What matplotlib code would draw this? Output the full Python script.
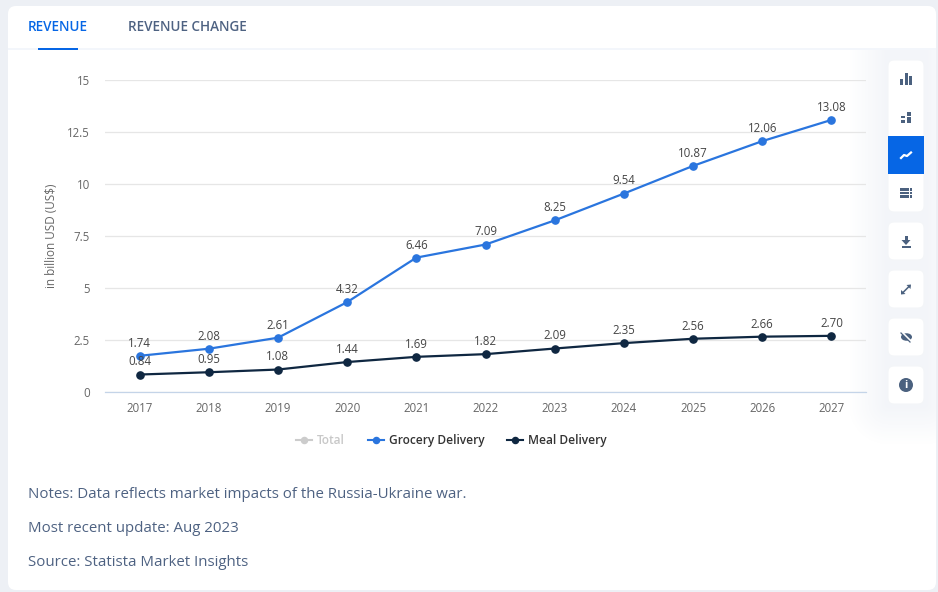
import matplotlib
matplotlib.use("Agg")
import matplotlib.pyplot as plt
import numpy as np
from matplotlib.lines import Line2D
from matplotlib.patches import Circle, Ellipse, FancyBboxPatch, Polygon, Rectangle

W, H = 938, 592

years = ["2017", "2018", "2019", "2020", "2021", "2022", "2023", "2024", "2025", "2026", "2027"]
grocery = [1.74, 2.08, 2.61, 4.32, 6.46, 7.09, 8.25, 9.54, 10.87, 12.06, 13.08]
meal = [0.84, 0.95, 1.08, 1.44, 1.69, 1.82, 2.09, 2.35, 2.56, 2.66, 2.70]
y_ticks = [0, 2.5, 5, 7.5, 10, 12.5, 15]
y_tick_labels = ["0", "2.5", "5", "7.5", "10", "12.5", "15"]
notes = [
    "Notes: Data reflects market impacts of the Russia-Ukraine war.",
    "Most recent update: Aug 2023",
    "Source: Statista Market Insights",
]

BLUE = "#2a75de"
NAVY = "#0f2741"
ACCENT = "#0666e5"
SLATE = "#4e6282"
ICON = "#4b617f"
GREY = "#666666"

plt.rcParams["font.family"] = ["Open Sans", "DejaVu Sans"]

fig = plt.figure(figsize=(W / 100, H / 100), dpi=100, facecolor="#edf0f5")

# page furniture drawn in pixel coordinates
bg = fig.add_axes([0, 0, 1, 1], zorder=0)
bg.axis("off")


def card(x, y, w, h, color="white", radius=6, z=1, edge="none"):
    bg.add_patch(FancyBboxPatch((x + radius, y + radius), w - 2 * radius, h - 2 * radius,
                                boxstyle=f"round,pad={radius},rounding_size={radius}",
                                facecolor=color, edgecolor=edge, linewidth=0.8, zorder=z))


def box(x, y, w, h, color=ICON, z=4):
    bg.add_patch(Rectangle((x, y), w, h, facecolor=color, linewidth=0, zorder=z))


card(8, 6, 928, 584, radius=8)
# soft shadow of the toolbar on the card, fading with distance from the buttons
px, py = np.meshgrid(np.arange(850, 936), np.arange(50, 450))
dx = np.maximum(888 - px, 0) + np.maximum(px - 924, 0)
dy = np.maximum(py - 404, 0)
shade = np.clip(1 - np.hypot(dx, dy) / 40, 0, 1)
bg.imshow(shade, extent=(850, 936, 450, 50), cmap=matplotlib.colors.LinearSegmentedColormap.from_list(
    "shade", ["#ffffff", "#f3f5f9"]), aspect="auto", zorder=1.5)
bg.set_xlim(0, W)
bg.set_ylim(H, 0)

box(8, 48, 928, 2, "#f3f6fb", 2)
box(38, 48, 40, 2, ACCENT, 3)
bg.text(28, 27, "REVENUE", color=ACCENT, fontsize=9.75, weight=600, va="center")
bg.text(128, 27, "REVENUE CHANGE", color=SLATE, fontsize=9.75, weight=600, va="center")

# toolbar buttons
card(888, 60, 36, 152, edge="#f3f5f8", z=2)
box(888, 136, 36, 38, ACCENT, 3)
for top in (222, 270, 318, 366):
    card(888, top, 36, 38, edge="#f3f5f8", z=2)

# bar icon
for x, y0, h in ((900, 79, 6), (904.5, 73, 12), (909, 76, 9)):
    box(x, y0, 3, h)
# stacked icon
for x, y0, w, h in ((901, 116, 4, 2), (901, 120, 4, 2.5), (907, 112, 4, 4), (907, 117, 4, 5.5)):
    box(x, y0, w, h)
# line icon
bg.plot([901, 904, 907, 911], [158, 155, 156, 152.5], color="white", lw=1.6, zorder=4)
# table icon
for y0 in (188, 191.6, 195.2):
    box(900, y0, 6.5, 2.6)
    box(907.3, y0, 2, 2.6)
    box(910, y0, 2.4, 2.6)
# download icon
box(904.5, 235.5, 3, 5)
bg.add_patch(Polygon([(901.5, 240), (910.5, 240), (906, 245)], facecolor=ICON, linewidth=0, zorder=4))
box(901.5, 246, 9, 1.6)
# expand icon
bg.plot([902.5, 909.5], [293, 286], color=ICON, lw=1.1, zorder=4)
bg.add_patch(Polygon([(906.5, 285), (911, 284.5), (910.5, 289)], facecolor=ICON, linewidth=0, zorder=4))
bg.add_patch(Polygon([(901, 290), (901, 294.5), (905.5, 294)], facecolor=ICON, linewidth=0, zorder=4))
# hidden eye icon
bg.add_patch(Ellipse((906.5, 337), 11, 7.5, facecolor=ICON, linewidth=0, zorder=4))
bg.plot([901.5, 911.5], [332, 342], color="white", lw=1.6, zorder=5)
bg.plot([901, 910], [333, 342], color=ICON, lw=0.9, zorder=6)
# info icon
bg.add_patch(Circle((906, 385), 7, facecolor=ICON, linewidth=0, zorder=4))
bg.text(906, 385, "i", color="white", fontsize=8, weight="bold", ha="center", va="center", zorder=5)

for y, line in zip((494, 528, 562), notes):
    bg.text(28, y, line, color=SLATE, fontsize=10.78, va="center")

# chart proper
ax = fig.add_axes([105 / W, 1 - 392 / H, 761 / W, 312 / H], zorder=2)
ax.patch.set_alpha(0)
xs = list(range(len(years)))
ax.plot(xs, grocery, color=BLUE, lw=1.6, marker="o", ms=5.2, clip_on=False, zorder=3)
ax.plot(xs, meal, color=NAVY, lw=1.6, marker="o", ms=5.2, clip_on=False, zorder=4)

for series in (grocery, meal):
    for x, v in zip(xs, series):
        ax.annotate(f"{v:.2f}", (x, v), xytext=(0, 4.4), textcoords="offset points",
                    ha="center", va="bottom", fontsize=8.3, color="#444444", zorder=5)

ax.set_xlim(-0.5, 10.5)
ax.set_ylim(0, 15)
ax.set_xticks(xs, years)
ax.set_yticks(y_ticks, y_tick_labels)
ax.tick_params(axis="both", length=0, labelsize=8.3, labelcolor=GREY)
ax.tick_params(axis="x", pad=7.5)
ax.tick_params(axis="y", pad=11)
ax.grid(axis="y", color="#e6e6e6", lw=0.9)
ax.set_axisbelow(True)
for name in ("top", "right", "left"):
    ax.spines[name].set_visible(False)
ax.spines["bottom"].set_color("#c4d4e8")
ax.spines["bottom"].set_linewidth(0.9)
ax.set_ylabel("in billion USD (US$)", fontsize=8.45, color=GREY)
ax.yaxis.set_label_coords(-47 / 761, 0.5)

handles = [
    Line2D([], [], color="#cccccc", lw=1.5, marker="o", ms=4.4),
    Line2D([], [], color=BLUE, lw=1.5, marker="o", ms=4.4),
    Line2D([], [], color=NAVY, lw=1.5, marker="o", ms=4.4),
]
leg = fig.legend(handles, ["Total", "Grocery Delivery", "Meal Delivery"], ncol=3,
                 loc="center", bbox_to_anchor=(451.5 / W, 1 - 440.5 / H), frameon=False,
                 fontsize=8.55, handlelength=1.34, handletextpad=0.42, columnspacing=1.93,
                 labelcolor=["#c8c8c8", "#333333", "#333333"])
for text in leg.get_texts():
    text.set_fontweight(600)

fig.savefig("out.png", dpi=100, facecolor=fig.get_facecolor())
